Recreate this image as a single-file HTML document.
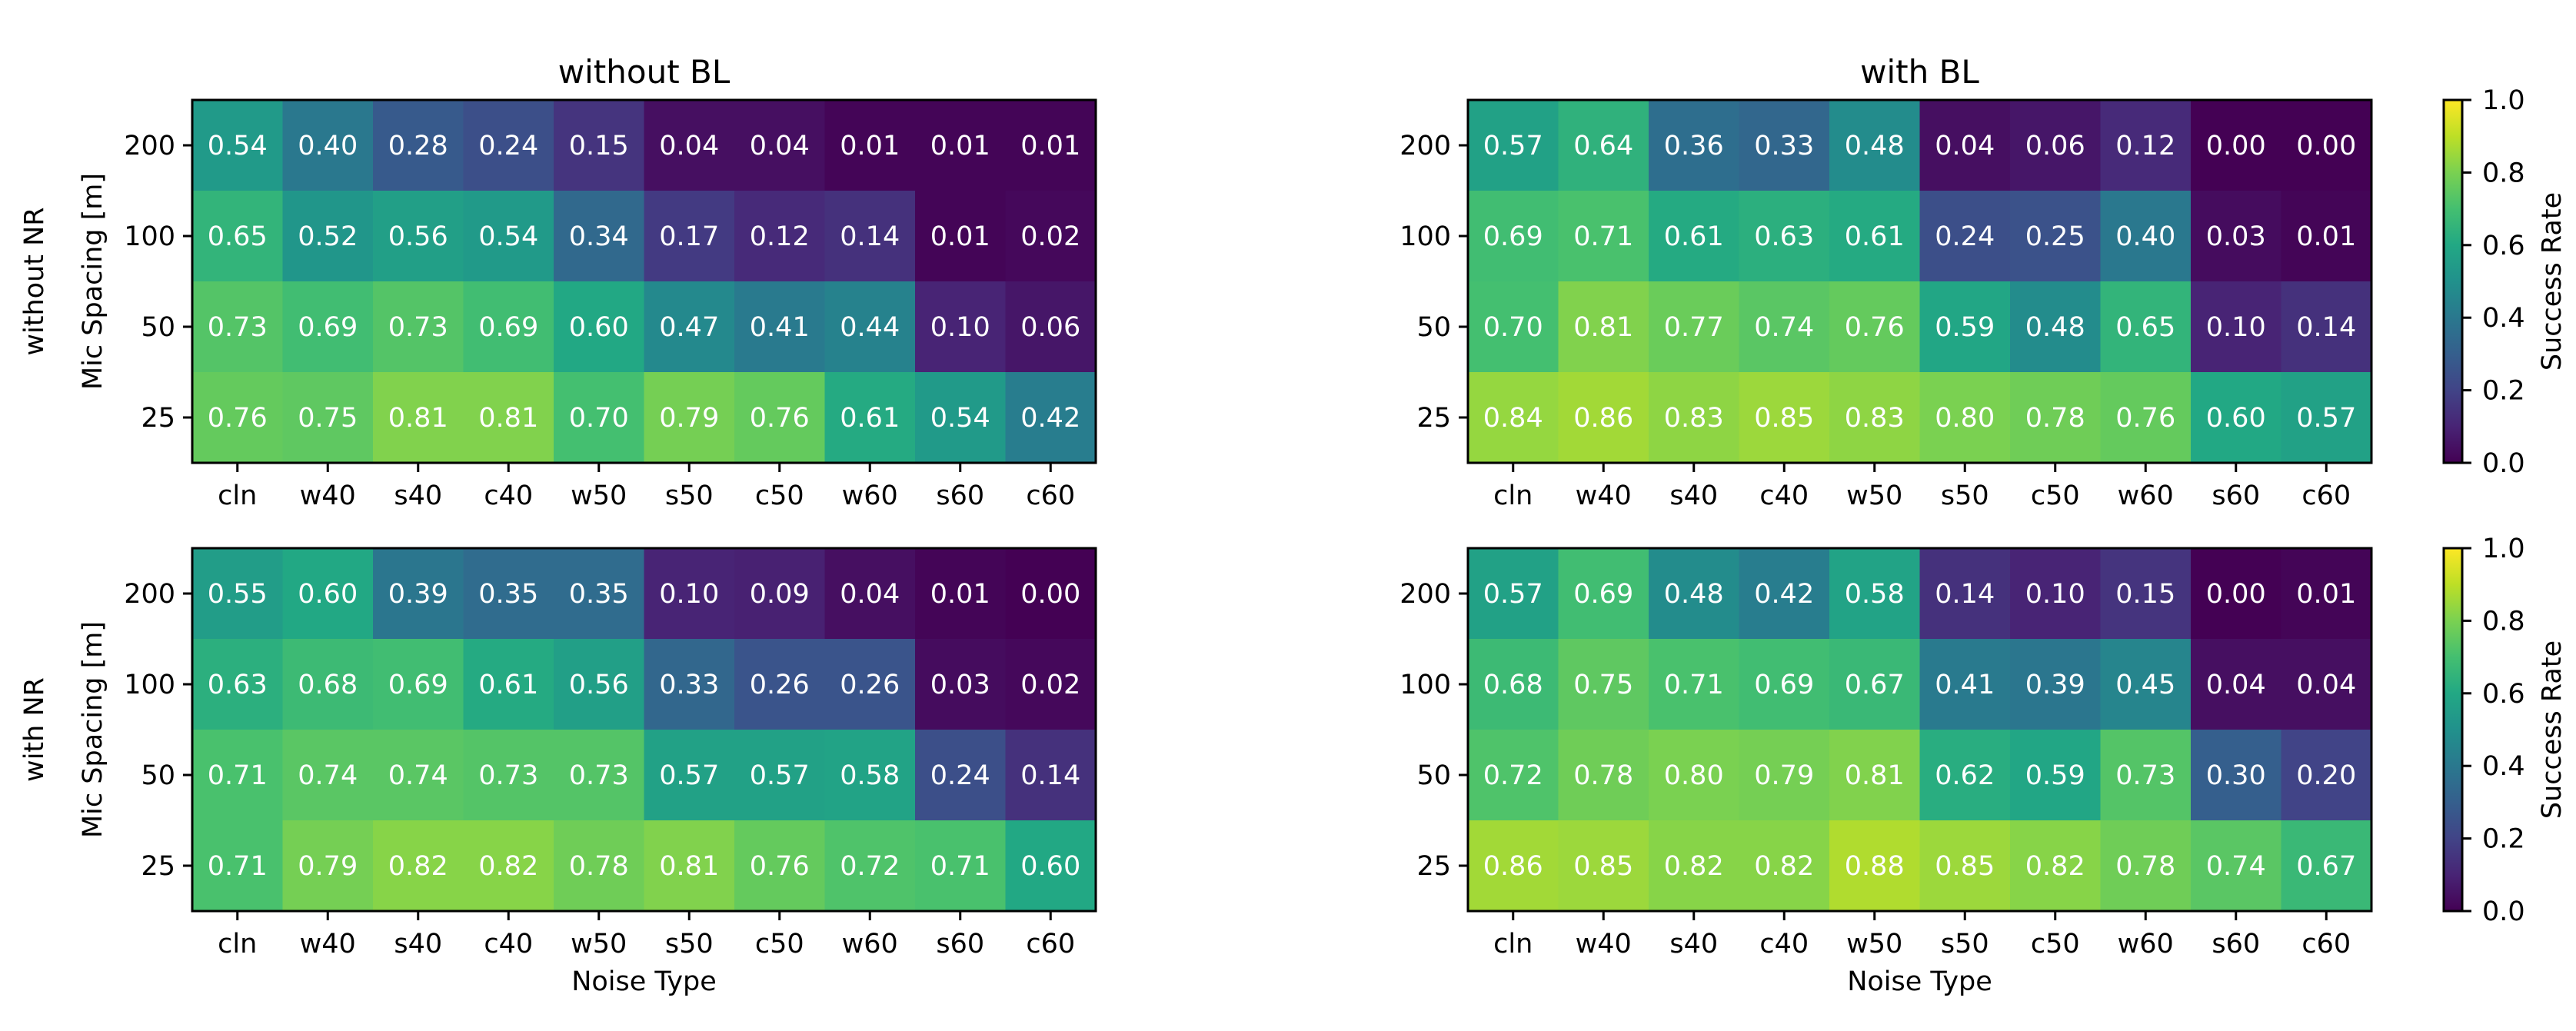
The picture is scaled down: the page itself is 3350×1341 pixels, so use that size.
<!DOCTYPE html>
<html><head><meta charset="utf-8"><style>
html,body{margin:0;padding:0;background:#fff;}
svg text{font-family:"DejaVu Sans","Liberation Sans",sans-serif;}
</style></head><body>
<svg id="s" xmlns="http://www.w3.org/2000/svg" width="3350" height="1336" viewBox="0 0 3350 1336">
<defs>
<linearGradient id="vg" x1="0" y1="1" x2="0" y2="0">
<stop offset="0" stop-color="#440154"/><stop offset="0.1" stop-color="#482475"/><stop offset="0.2" stop-color="#414487"/><stop offset="0.3" stop-color="#355f8d"/><stop offset="0.4" stop-color="#2a788e"/><stop offset="0.5" stop-color="#21918c"/><stop offset="0.6" stop-color="#22a884"/><stop offset="0.7" stop-color="#44bf70"/><stop offset="0.8" stop-color="#7ad151"/><stop offset="0.9" stop-color="#bddf26"/><stop offset="1" stop-color="#fde725"/>
</linearGradient>
</defs>
</svg>
<script>
const V=[[68,1,84],[72,36,117],[65,68,135],[53,95,141],[42,120,142],[33,145,140],[34,168,132],[68,191,112],[122,209,81],[189,223,38],[253,231,37]];
function col(v){v=Math.max(0,Math.min(1,v));let i=Math.min(9,Math.floor(v*10));let t=v*10-i;let a=V[i],b=V[i+1];return 'rgb('+a.map((x,k)=>Math.round(x+(b[k]-x)*t)).join(',')+')';}
const D={
tl:[[.54,.40,.28,.24,.15,.04,.04,.01,.01,.01],[.65,.52,.56,.54,.34,.17,.12,.14,.01,.02],[.73,.69,.73,.69,.60,.47,.41,.44,.10,.06],[.76,.75,.81,.81,.70,.79,.76,.61,.54,.42]],
tr:[[.57,.64,.36,.33,.48,.04,.06,.12,.00,.00],[.69,.71,.61,.63,.61,.24,.25,.40,.03,.01],[.70,.81,.77,.74,.76,.59,.48,.65,.10,.14],[.84,.86,.83,.85,.83,.80,.78,.76,.60,.57]],
bl:[[.55,.60,.39,.35,.35,.10,.09,.04,.01,.00],[.63,.68,.69,.61,.56,.33,.26,.26,.03,.02],[.71,.74,.74,.73,.73,.57,.57,.58,.24,.14],[.71,.79,.82,.82,.78,.81,.76,.72,.71,.60]],
br:[[.57,.69,.48,.42,.58,.14,.10,.15,.00,.01],[.68,.75,.71,.69,.67,.41,.39,.45,.04,.04],[.72,.78,.80,.79,.81,.62,.59,.73,.30,.20],[.86,.85,.82,.82,.88,.85,.82,.78,.74,.67]]};
const X=['cln','w40','s40','c40','w50','s50','c50','w60','s60','c60'],Y=['200','100','50','25'];
let h='';const W=1175,H=472;
function panel(d,x0,y0,xl,title){const cw=W/10,ch=H/4;
for(let r=0;r<4;r++)for(let c=0;c<10;c++){const v=d[r][c];h+=`<rect x="${x0+c*cw}" y="${y0+r*ch}" width="${cw+0.6}" height="${ch+0.6}" fill="${col(v)}"/>`;
h+=`<text x="${x0+(c+.5)*cw}" y="${y0+(r+.5)*ch+12}" font-size="35" fill="#fff" text-anchor="middle">${v.toFixed(2)}</text>`;}
h+=`<rect x="${x0}" y="${y0}" width="${W}" height="${H}" fill="none" stroke="#000" stroke-width="3"/>`;
for(let c=0;c<10;c++){const x=x0+(c+.5)*cw;h+=`<line x1="${x}" y1="${y0+H}" x2="${x}" y2="${y0+H+12}" stroke="#000" stroke-width="3"/><text x="${x}" y="${y0+H+54}" font-size="35" text-anchor="middle">${X[c]}</text>`;}
for(let r=0;r<4;r++){const y=y0+(r+.5)*ch;h+=`<line x1="${x0-12}" y1="${y}" x2="${x0}" y2="${y}" stroke="#000" stroke-width="3"/><text x="${x0-22}" y="${y+12}" font-size="35" text-anchor="end">${Y[r]}</text>`;}
if(xl)h+=`<text x="${x0+W/2}" y="${y0+H+103}" font-size="35" text-anchor="middle">Noise Type</text>`;
if(title)h+=`<text x="${x0+W/2}" y="${y0-22}" font-size="42" text-anchor="middle">${title}</text>`;}
panel(D.tl,250,130,false,'without BL');panel(D.tr,1909,130,false,'with BL');
panel(D.bl,250,713,true,null);panel(D.br,1909,713,true,null);
[[130,'without NR'],[713,'with NR']].forEach(([y0,l])=>{const cy=y0+H/2;
h+=`<text transform="translate(132,${cy}) rotate(-90)" font-size="35" text-anchor="middle">Mic Spacing [m]</text>`;
h+=`<text transform="translate(56,${cy}) rotate(-90)" font-size="35" text-anchor="middle">${l}</text>`;
h+=`<rect x="3178" y="${y0}" width="24" height="${H}" fill="url(#vg)" stroke="#000" stroke-width="3"/>`;
for(let i=0;i<=5;i++){const y=y0+H-i*H/5;h+=`<line x1="3202" y1="${y}" x2="3214" y2="${y}" stroke="#000" stroke-width="3"/><text x="3228" y="${y+12}" font-size="35">${(i*0.2).toFixed(1)}</text>`;}
h+=`<text transform="translate(3330,${cy}) rotate(-90)" font-size="35" text-anchor="middle">Success Rate</text>`;});
document.getElementById('s').insertAdjacentHTML('beforeend',h);
</script>
</body></html>
